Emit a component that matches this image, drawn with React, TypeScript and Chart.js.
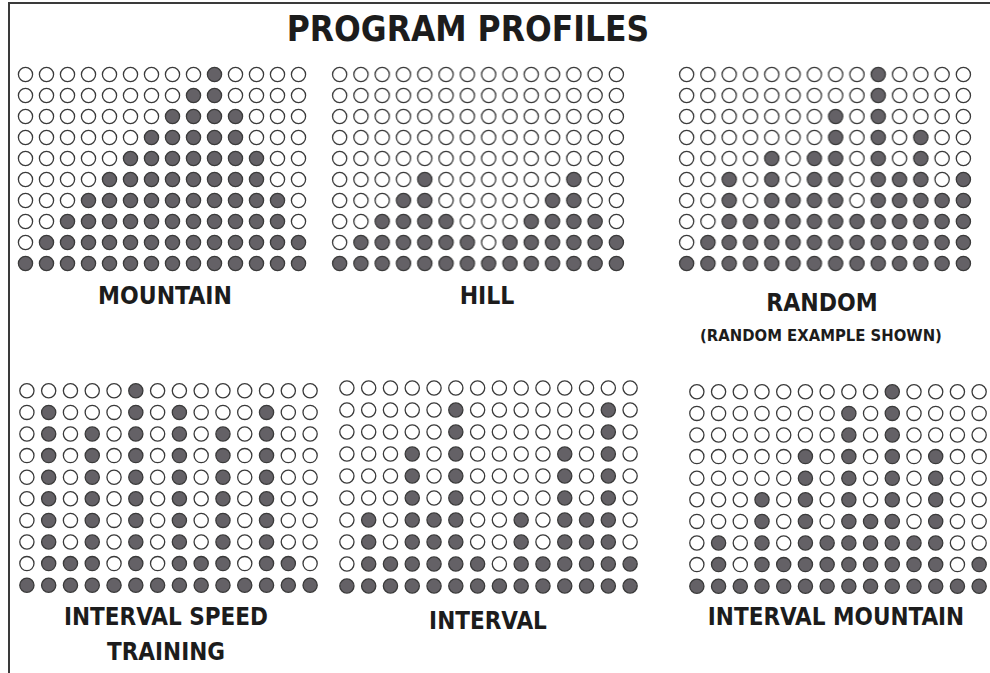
import React, { useEffect, useRef } from "react";
import { Chart, registerables } from "chart.js";

Chart.register(...registerables);

// 14 segments (columns) x 10 levels (rows, top to bottom). "1" = lit dot, "0" = unlit dot.
const SEGMENTS = [1, 2, 3, 4, 5, 6, 7, 8, 9, 10, 11, 12, 13, 14];
const LEVELS = [10, 9, 8, 7, 6, 5, 4, 3, 2, 1];

const MOUNTAIN = [
  "00000000010000",
  "00000000110000",
  "00000001111000",
  "00000011111000",
  "00000111111100",
  "00001111111100",
  "00011111111110",
  "00111111111110",
  "01111111111111",
  "11111111111111",
];

const HILL = [
  "00000000000000",
  "00000000000000",
  "00000000000000",
  "00000000000000",
  "00000000000000",
  "00001000000100",
  "00011000001100",
  "00111100011110",
  "01111110111111",
  "11111111111111",
];

const RANDOM = [
  "00000000010000",
  "00000000010000",
  "00000001010000",
  "00000001010100",
  "00001011010100",
  "00101011011101",
  "00101111011111",
  "00111111111111",
  "01111111111111",
  "11111111111111",
];

const INTERVAL_SPEED = [
  "00000100000000",
  "01000101000100",
  "01010101010100",
  "01010101010100",
  "01010101010100",
  "01010101010100",
  "01010101010100",
  "01010101010100",
  "01110101110110",
  "11111111111111",
];

const INTERVAL = [
  "00000000000000",
  "00000100000010",
  "00000100000010",
  "00010100001010",
  "00010100001010",
  "00010100001010",
  "01011100101110",
  "01011100101110",
  "01111110111111",
  "11111111111111",
];

const INTERVAL_MOUNTAIN = [
  "00000000010000",
  "00000001010000",
  "00000001010000",
  "00000101010100",
  "00000101010100",
  "00010101010100",
  "00010101110100",
  "01010111111100",
  "01011111111101",
  "11111111111111",
];

const LIT = "#646166";
const UNLIT = "#ffffff";
const EDGE = "#3a3a3a";

type Panel = {
  grid: string[];
  left: number;
  top: number;
  width: number;
  height: number;
};

// panel boxes (each column / row occupies one equal cell)
const PANELS: Panel[] = [
  { grid: MOUNTAIN, left: 14.5, top: 63.5, width: 294, height: 210 },
  { grid: HILL, left: 329.4, top: 63.5, width: 297.2, height: 210 },
  { grid: RANDOM, left: 676.4, top: 63.5, width: 297.2, height: 210 },
  { grid: INTERVAL_SPEED, left: 16.1, top: 380.3, width: 304.8, height: 215.6 },
  { grid: INTERVAL, left: 336.1, top: 377, width: 304.8, height: 220 },
  { grid: INTERVAL_MOUNTAIN, left: 686.2, top: 381.2, width: 303.6, height: 215.6 },
];

function DotPanel({ panel }: { panel: Panel }) {
  const ref = useRef<HTMLCanvasElement | null>(null);
  useEffect(() => {
    if (!ref.current) return;
    const pts: { x: number; y: number }[] = [];
    const fills: string[] = [];
    LEVELS.forEach((lvl, r) => {
      SEGMENTS.forEach((seg, c) => {
        pts.push({ x: seg, y: lvl });
        fills.push(panel.grid[r][c] === "1" ? LIT : UNLIT);
      });
    });
    const chart = new Chart(ref.current, {
      type: "scatter",
      data: {
        datasets: [
          {
            data: pts,
            pointStyle: "circle",
            pointRadius: 7.1,
            pointHoverRadius: 7.1,
            pointBorderWidth: 1.3,
            pointBackgroundColor: fills,
            pointBorderColor: EDGE,
            clip: false as any,
          },
        ],
      },
      options: {
        animation: false,
        responsive: false,
        maintainAspectRatio: false,
        layout: { padding: 0, autoPadding: false } as any,
        events: [],
        plugins: { legend: { display: false }, tooltip: { enabled: false }, title: { display: false } },
        scales: {
          x: { type: "linear", min: 0.5, max: 14.5, display: false },
          y: { type: "linear", min: 0.5, max: 10.5, display: false },
        },
      },
    });
    return () => chart.destroy();
  }, [panel]);
  return (
    <div
      style={{
        position: "absolute",
        left: panel.left,
        top: panel.top,
        width: panel.width,
        height: panel.height,
      }}
    >
      <canvas ref={ref} width={Math.round(panel.width)} height={Math.round(panel.height)} style={{ width: "100%", height: "100%" }} />
    </div>
  );
}

const FONT = '"DejaVu Sans Condensed", "DejaVu Sans", sans-serif';

function Label({ text, cx, cy, size }: { text: string; cx: number; cy: number; size: number }) {
  return (
    <div
      style={{
        position: "absolute",
        left: cx - 300,
        width: 600,
        top: cy - 0.48 * size,
        fontSize: size,
        lineHeight: `${size}px`,
        fontFamily: FONT,
        fontWeight: 700,
        color: "#1c1c1c",
        textAlign: "center",
        whiteSpace: "nowrap",
      }}
    >
      {text}
    </div>
  );
}

export default function App() {
  return (
    <div
      style={{
        position: "absolute",
        left: 0,
        top: 0,
        width: 990,
        height: 673,
        background: "#fff",
        overflow: "hidden",
      }}
    >
      <div style={{ position: "absolute", left: 8, top: 2, width: 990, height: 2, background: "#3a3a3a" }} />
      <div style={{ position: "absolute", left: 8, top: 2, width: 2, height: 671, background: "#3a3a3a" }} />
      {PANELS.map((p, i) => (
        <DotPanel key={i} panel={p} />
      ))}
      <Label text="PROGRAM PROFILES" cx={468} cy={29} size={35} />
      <Label text="MOUNTAIN" cx={165} cy={296} size={24.5} />
      <Label text="HILL" cx={487} cy={296} size={24.5} />
      <Label text="RANDOM" cx={822} cy={303} size={24.5} />
      <Label text="(RANDOM EXAMPLE SHOWN)" cx={821} cy={336} size={16.5} />
      <Label text="INTERVAL SPEED" cx={166} cy={617} size={24} />
      <Label text="TRAINING" cx={166} cy={652} size={24} />
      <Label text="INTERVAL" cx={488} cy={621} size={24} />
      <Label text="INTERVAL MOUNTAIN" cx={836} cy={617} size={24} />
    </div>
  );
}
